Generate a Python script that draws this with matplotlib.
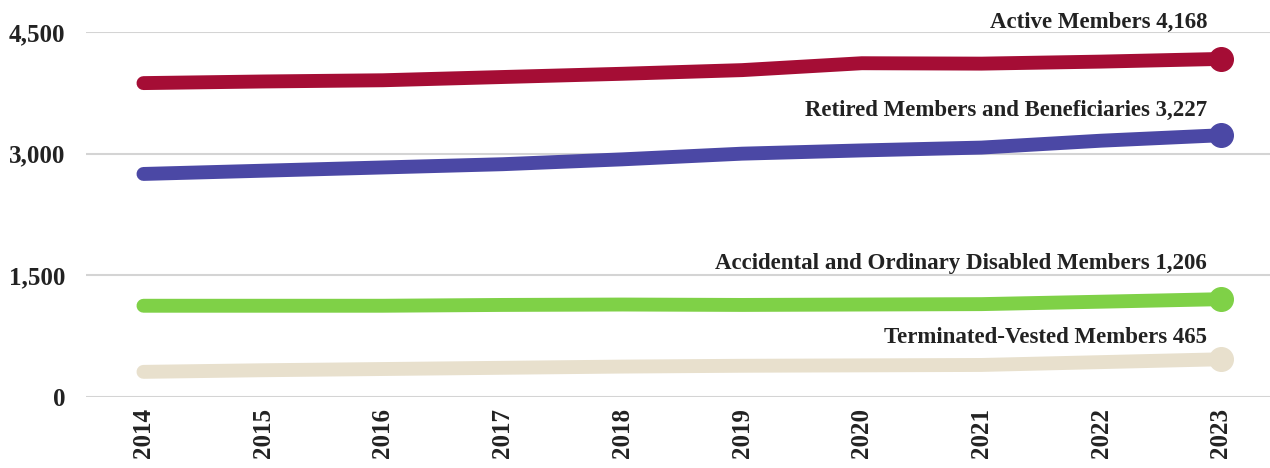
import matplotlib.pyplot as plt
import numpy as np

plt.rcParams['font.family'] = ['Liberation Serif', 'DejaVu Serif']

years = [2014, 2015, 2016, 2017, 2018, 2019, 2020, 2021, 2022, 2023]
active = [3870, 3890, 3905, 3945, 3985, 4030, 4115, 4110, 4135, 4168]
retired = [2750, 2790, 2830, 2870, 2930, 3000, 3040, 3075, 3160, 3227]
disabled = [1125, 1125, 1125, 1135, 1140, 1135, 1140, 1145, 1175, 1206]
terminated = [310, 330, 345, 360, 375, 385, 390, 395, 430, 465]

series = [
    ('Active Members', active, '#a50d35', 19),
    ('Retired Members and Beneficiaries', retired, '#4b48a5', 10),
    ('Accidental and Ordinary Disabled Members', disabled, '#7fd147', 18),
    ('Terminated-Vested Members', terminated, '#e8e0cd', 8),
]
yticks = [0, 1500, 3000, 4500]

fig = plt.figure(figsize=(12.7, 4.68), dpi=100)
ax = fig.add_axes([86 / 1270, 71 / 468, 1184 / 1270, 365 / 468])

for name, vals, col, dy in series:
    ax.plot(years, vals, color=col, lw=10, solid_capstyle='round', zorder=3)
    ax.plot(years[-1], vals[-1], 'o', color=col, ms=17, zorder=4)
    ax.annotate('{} {:,}'.format(name, vals[-1]), (years[-1], vals[-1]),
                xytext=(-10, dy), textcoords='offset points', ha='right',
                va='bottom', fontsize=16.5, fontweight='bold', color='#222222')

ax.set_xlim(2013.52, 2023.41)
ax.set_ylim(0, 4500)
ax.set_yticks(yticks)
ax.set_yticklabels(['{:,}'.format(v) for v in yticks])
ax.set_xticks(years)
ax.set_xticklabels([str(y) for y in years], rotation=90)
ax.grid(axis='y', color='#d4d4d4', lw=1.5, zorder=0)
ax.tick_params(length=0, labelsize=18, colors='#222222')
ax.tick_params(axis='y', pad=15)
ax.tick_params(axis='x', pad=8)
for lab in ax.get_xticklabels() + ax.get_yticklabels():
    lab.set_fontweight('bold')
for s in ax.spines.values():
    s.set_visible(False)

fig.savefig('out.png', dpi=100)
